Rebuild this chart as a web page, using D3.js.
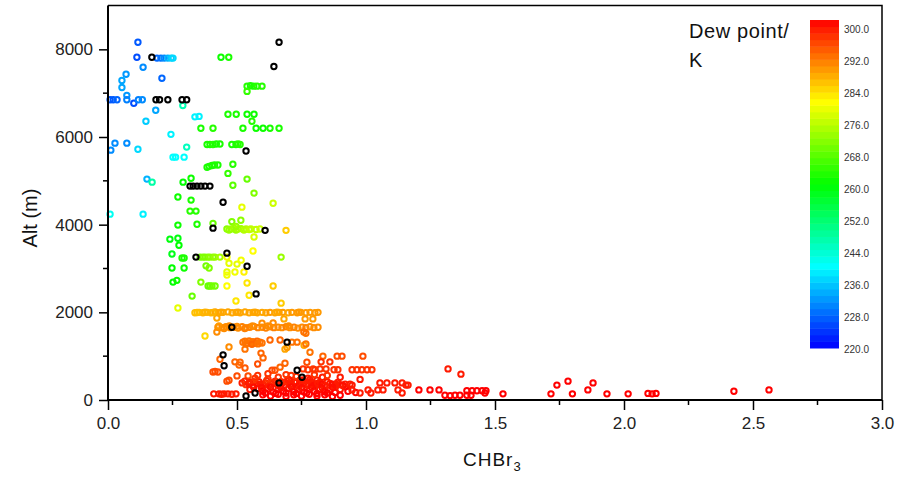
<!DOCTYPE html>
<html>
<head>
<meta charset="utf-8">
<script src="https://cdn.jsdelivr.net/npm/d3@7"></script>
<style>
  body { margin: 0; background: #fff; }
  text { font-family: "Liberation Sans", Arial, sans-serif; }
</style>
</head>
<body>
<div class="chart"></div>
<script>
// each row: [CHBr3, altitude (m), dew point (K) or null when not measured]
var upperPts = [
  [0.116, 8160, 227], [0.112, 7820, 226], [0.170, 7820, null], [0.190, 7800, 228],
  [0.205, 7800, 229], [0.218, 7800, 231], [0.232, 7800, 234], [0.245, 7800, 236],
  [0.252, 7800, 237], [0.136, 7590, 231], [0.070, 7430, 232], [0.054, 7290, 233],
  [0.054, 7130, 233], [0.209, 7340, 228], [0.073, 6950, 232], [0.008, 6850, 227],
  [0.020, 6850, 227], [0.035, 6850, 228], [0.073, 6850, 230], [0.100, 6770, 226],
  [0.118, 6850, 230], [0.133, 6850, 231], [0.186, 6850, null], [0.200, 6850, null],
  [0.232, 6850, null], [0.287, 6850, null], [0.305, 6850, null], [0.290, 6720, 246],
  [0.185, 6610, 233], [0.147, 6360, 236], [0.337, 6460, 239], [0.353, 6470, 239],
  [0.244, 6060, 239], [0.360, 6200, 262], [0.407, 6200, 263], [0.465, 6520, 262],
  [0.497, 6520, 262], [0.539, 6520, 261], [0.566, 6520, 261], [0.558, 6360, 263],
  [0.523, 6200, 262], [0.574, 6200, 261], [0.601, 6200, 261], [0.628, 6200, 262],
  [0.663, 6200, 262], [0.438, 7820, 261], [0.468, 7820, 262], [0.539, 7160, 263],
  [0.552, 7170, 262], [0.565, 7160, 262], [0.578, 7160, 263], [0.597, 7160, 263],
  [0.539, 7040, 264], [0.663, 8160, null], [0.643, 7610, null], [0.011, 5700, 231],
  [0.027, 5860, 231], [0.073, 5860, 231], [0.116, 5720, 237], [0.305, 5770, 245],
  [0.252, 5540, 240], [0.262, 5540, 240], [0.295, 5540, 240], [0.384, 5830, 262],
  [0.395, 5830, 262], [0.407, 5830, 263], [0.420, 5840, 262], [0.434, 5840, 262],
  [0.480, 5830, 262], [0.496, 5830, 262], [0.504, 5840, 263], [0.512, 5830, 263],
  [0.535, 5680, null], [0.384, 5310, 262], [0.392, 5330, 262], [0.403, 5350, 262],
  [0.413, 5360, 262], [0.426, 5360, 262], [0.484, 5380, 263], [0.465, 5170, 264],
  [0.539, 5040, 268], [0.322, 5060, 261], [0.291, 4970, 260], [0.151, 5040, 234],
  [0.171, 4970, 247], [0.318, 4880, null], [0.330, 4880, null], [0.345, 4880, null],
  [0.360, 4880, null], [0.376, 4880, null], [0.395, 4880, null], [0.484, 4900, 267],
  [0.566, 4720, 270], [0.446, 4510, null], [0.640, 4490, 276], [0.519, 4400, 278]
];

var midPts = [
  [0.271, 4630, 261], [0.322, 4560, 262], [0.318, 4310, 263], [0.341, 4310, 263],
  [0.008, 4240, 241], [0.136, 4240, 239], [0.271, 3990, 261], [0.345, 4010, 262],
  [0.407, 4030, 268], [0.480, 4070, 270], [0.515, 4100, 271], [0.407, 3920, null],
  [0.461, 3900, 271], [0.469, 3880, 272], [0.477, 3900, 272], [0.488, 3920, 273],
  [0.496, 3880, 272], [0.504, 3900, 273], [0.516, 3910, 273], [0.527, 3880, 274],
  [0.535, 3900, 274], [0.547, 3890, 275], [0.554, 3900, 275], [0.574, 3890, 275],
  [0.589, 3900, 276], [0.609, 3870, null], [0.690, 3870, 284], [0.496, 3960, 272],
  [0.240, 3670, 259], [0.271, 3690, 259], [0.275, 3530, 260], [0.566, 3720, 277],
  [0.248, 3330, 258], [0.287, 3240, 262], [0.295, 3240, 262], [0.341, 3260, null],
  [0.357, 3260, 269], [0.368, 3260, 270], [0.376, 3260, 270], [0.387, 3260, 270],
  [0.395, 3260, 271], [0.407, 3260, 271], [0.415, 3260, 272], [0.434, 3260, 273],
  [0.461, 3350, null], [0.461, 3260, 279], [0.469, 3120, 278], [0.500, 3100, 278],
  [0.516, 3190, 279], [0.539, 3050, null], [0.562, 3400, 280], [0.671, 3260, 272],
  [0.248, 3010, 260], [0.295, 3010, 261], [0.380, 3060, 269], [0.392, 3010, 270],
  [0.461, 2920, 278], [0.492, 2920, 279], [0.527, 2920, 281], [0.461, 2850, 279],
  [0.252, 2690, 260], [0.267, 2730, 261], [0.360, 2690, 270], [0.388, 2600, 268],
  [0.395, 2600, 268], [0.403, 2600, 269], [0.415, 2600, 269], [0.461, 2600, 280],
  [0.539, 2670, 282], [0.640, 2600, 284], [0.574, 2420, null], [0.547, 2390, 282],
  [0.326, 2370, 268], [0.496, 2260, 282], [0.271, 2100, 278], [0.671, 2210, 284]
];

var legPts2000 = [
  [0.337, 1990, 285], [0.353, 2000, 285], [0.368, 1990, 286], [0.384, 2000, 286],
  [0.399, 1990, 286], [0.415, 2010, 287], [0.430, 1990, 287], [0.446, 2000, 287],
  [0.465, 2010, 287], [0.481, 1990, 287], [0.496, 2000, 287], [0.512, 1990, 287],
  [0.531, 2010, 287], [0.547, 1990, 287], [0.562, 2000, 287], [0.578, 1990, 287],
  [0.597, 2000, 287], [0.612, 1990, 287], [0.628, 2000, 288], [0.647, 1990, 287],
  [0.663, 2000, 287], [0.678, 2000, 288], [0.698, 1990, 287], [0.713, 2000, 288],
  [0.733, 1990, 288], [0.748, 2000, 288], [0.767, 1990, 288], [0.783, 2000, 288],
  [0.802, 1990, 288], [0.814, 2000, 288], [0.422, 1870, 287], [0.682, 1850, 287],
  [0.764, 1850, 288], [0.794, 1850, 288], [0.376, 1460, 283],
  [0.345, 1995, 285], [0.376, 2005, 286], [0.407, 1995, 286], [0.438, 2005, 287],
  [0.504, 2005, 287], [0.570, 2005, 287], [0.655, 2005, 287], [0.740, 2005, 288]
];

var legPts1650 = [
  [0.426, 1660, 289], [0.442, 1650, 289], [0.457, 1670, 289], [0.473, 1650, 289],
  [0.480, 1660, null], [0.488, 1660, 289], [0.504, 1640, 289], [0.520, 1670, 290],
  [0.535, 1650, 289], [0.550, 1660, 290], [0.566, 1680, 289], [0.581, 1650, 290],
  [0.597, 1660, 289], [0.612, 1640, 290], [0.628, 1670, 289], [0.643, 1650, 290],
  [0.659, 1660, 289], [0.674, 1650, 289], [0.690, 1670, 290], [0.705, 1650, 289],
  [0.721, 1660, 290], [0.736, 1640, 289], [0.752, 1660, 289], [0.767, 1650, 290],
  [0.783, 1670, 289], [0.798, 1650, 289], [0.814, 1660, 289], [0.597, 1750, 289],
  [0.640, 1760, 289], [0.422, 1550, 289], [0.759, 1550, 291], [0.767, 1520, 291],
  [0.430, 1690, 288], [0.450, 1630, 289], [0.470, 1690, 289], [0.500, 1680, 289],
  [0.530, 1630, 290], [0.560, 1690, 289], [0.620, 1690, 289], [0.700, 1690, 289],
  [0.523, 1320, 291], [0.531, 1340, 291], [0.539, 1300, 291], [0.547, 1350, 291],
  [0.554, 1310, 291], [0.562, 1330, 291], [0.570, 1300, 291], [0.578, 1340, 292],
  [0.589, 1320, 291], [0.597, 1300, 291], [0.535, 1280, 291], [0.558, 1270, 292],
  [0.581, 1280, 291], [0.628, 1370, 292], [0.667, 1370, 292],
  [0.694, 1320, null], [0.713, 1320, 291], [0.733, 1320, 291], [0.686, 1160, 287],
  [0.694, 1200, 288], [0.760, 1250, 287], [0.767, 1280, 291], [0.469, 1210, 289],
  [0.531, 1160, 291], [0.783, 1090, 291], [0.833, 1000, 292], [0.888, 1000, 294],
  [0.907, 1000, 294], [0.988, 1000, 294]
];

var lowPts = [
  [0.446, 1030, null], [0.434, 930, 292], [0.450, 780, null], [0.407, 640, 294],
  [0.415, 650, 294], [0.426, 640, 294], [0.492, 870, 292], [0.512, 860, 292],
  [0.508, 800, 292], [0.531, 730, 293], [0.500, 550, 294], [0.543, 550, 294],
  [0.461, 430, 294], [0.469, 450, 294], [0.593, 1070, 292], [0.601, 960, 292],
  [0.636, 680, 294], [0.647, 680, 294], [0.667, 750, 292], [0.686, 840, 292],
  [0.733, 680, null], [0.752, 520, null], [0.771, 860, 294], [0.775, 690, 296],
  [0.802, 690, 296], [0.756, 710, 296], [0.795, 710, 296], [0.822, 710, 296],
  [0.845, 710, 296], [0.826, 870, 296], [0.860, 870, 296], [0.876, 690, 296],
  [0.891, 690, 296], [0.946, 690, 296], [0.965, 690, 296], [0.984, 690, 296],
  [1.004, 690, 296], [1.023, 690, 296], [0.831, 520, 298], [0.783, 470, 298],
  [0.810, 450, 298], [0.977, 470, 298], [0.884, 360, 298], [0.919, 360, 298],
  [0.938, 360, 298], [0.744, 450, 298], [0.756, 460, 298], [0.775, 500, 298],
  [0.794, 390, 298], [0.710, 560, 296], [0.620, 600, 296], [0.580, 820, 294]
];

var surfacePts = [
  [0.410, 140, 298], [0.430, 140, 298], [0.440, 130, 298], [0.450, 140, 298],
  [0.465, 140, 298], [0.480, 130, 298], [0.496, 140, 298], [0.535, 90, null],
  [0.570, 160, null], [0.663, 390, null],
  [0.520, 390, 298], [0.535, 350, 296], [0.550, 400, 298], [0.560, 330, 298],
  [0.575, 380, 296], [0.585, 420, 298], [0.600, 350, 298], [0.610, 390, 298],
  [0.625, 330, 298], [0.640, 400, 296], [0.655, 360, 298], [0.670, 420, 298],
  [0.685, 340, 298], [0.700, 380, 298], [0.715, 330, 298], [0.730, 400, 298],
  [0.745, 350, 298], [0.760, 390, 298], [0.775, 330, 298], [0.790, 380, 298],
  [0.805, 350, 298], [0.820, 400, 298], [0.840, 330, 298], [0.860, 380, 298],
  [0.880, 330, 298], [0.900, 350, 298], [0.920, 300, 298],
  [0.530, 430, 297], [0.545, 370, 298], [0.565, 420, 297], [0.590, 360, 298],
  [0.615, 440, 297], [0.632, 370, 298], [0.648, 430, 297], [0.662, 330, 298],
  [0.678, 400, 298], [0.693, 430, 297], [0.708, 360, 298], [0.723, 410, 298],
  [0.738, 320, 299], [0.752, 420, 298], [0.768, 360, 298], [0.783, 420, 298],
  [0.798, 330, 299], [0.813, 380, 298], [0.830, 360, 299], [0.850, 410, 298],
  [0.870, 360, 299], [0.890, 400, 298], [0.910, 330, 299],
  [0.550, 240, 298], [0.580, 260, 298], [0.600, 200, 300], [0.620, 250, 298],
  [0.640, 180, 300], [0.660, 240, 298], [0.680, 200, 300], [0.700, 260, 298],
  [0.720, 190, 300], [0.740, 240, 298], [0.760, 180, 300], [0.780, 250, 298],
  [0.800, 200, 300], [0.820, 240, 298], [0.840, 190, 300], [0.860, 230, 298],
  [0.880, 170, 300], [0.900, 240, 298], [0.930, 200, 300], [0.960, 170, 300],
  [0.565, 290, 299], [0.595, 280, 299], [0.630, 290, 299], [0.670, 280, 299],
  [0.710, 300, 299], [0.750, 280, 299], [0.790, 290, 299], [0.830, 280, 299],
  [0.870, 290, 299], [0.610, 160, 300], [0.650, 150, 300], [0.690, 160, 300],
  [0.730, 150, 300], [0.770, 160, 300], [0.810, 150, 300], [0.850, 160, 300],
  [0.600, 120, 300], [0.630, 90, 300], [0.660, 130, 300], [0.690, 80, 300],
  [0.720, 120, 300], [0.750, 90, 300], [0.780, 130, 300], [0.810, 90, 300],
  [0.840, 120, 300], [0.870, 80, 300], [0.900, 110, 300],
  [0.570, 500, 296], [0.620, 480, 296], [0.660, 520, 296], [0.700, 470, 298],
  [0.730, 540, 296], [0.800, 580, 296], [0.850, 560, 296], [0.900, 520, 298],
  [0.690, 580, 296], [0.580, 560, 296],
  [0.946, 340, 298], [0.946, 230, 298], [0.977, 160, 298], [1.008, 230, 298],
  [1.019, 160, 298], [1.046, 230, 298], [1.066, 230, 298], [1.054, 390, 298],
  [1.081, 390, 298], [1.112, 390, 298], [1.140, 390, 298], [1.163, 340, 298],
  [1.124, 230, 298], [1.140, 160, 298], [1.155, 340, 298], [1.205, 230, 300],
  [1.248, 230, 300], [1.283, 230, 300], [1.318, 710, 298], [1.368, 590, 298],
  [1.306, 110, 300], [1.326, 100, 300], [1.345, 110, 300], [1.364, 110, 300],
  [1.391, 110, 300], [1.407, 110, 300], [1.391, 210, 300], [1.411, 210, 300],
  [1.430, 210, 300], [1.450, 210, 300], [1.465, 210, 300], [1.461, 160, 300],
  [1.531, 140, 300], [1.717, 140, 300], [1.740, 340, 300], [1.783, 430, 300],
  [1.800, 140, 300], [1.860, 230, 300], [1.880, 390, 300], [1.934, 140, 300],
  [2.016, 140, 300], [2.093, 150, 300], [2.109, 140, 300], [2.124, 150, 300],
  [2.426, 200, 300], [2.562, 230, 300]
];

var xTicks = [0, 0.5, 1.0, 1.5, 2.0, 2.5, 3.0];
var xMinor = [0.25, 0.75, 1.25, 1.75, 2.25, 2.75];
var yTicks = [0, 2000, 4000, 6000, 8000];
var yMinor = [1000, 3000, 5000, 7000];
var cbTicks = [220, 228, 236, 244, 252, 260, 268, 276, 284, 292, 300];
var rainbowStops = [220, 240, 260, 280, 300];
var rainbowColors = ["#0000ff", "#00ffff", "#00ff00", "#ffff00", "#ff0000"];

var allPts = upperPts.concat(midPts, legPts2000, legPts1650, lowPts, surfacePts);

var svgWidth = 904;
var svgHeight = 491;
var plot = { left: 108, right: 882, top: 5.5, bottom: 400 };

var svg = d3.select(".chart")
  .append("svg")
  .attr("width", svgWidth)
  .attr("height", svgHeight);

var xScale = d3.scaleLinear().domain([0, 3]).range([plot.left, plot.right]);
var yScale = d3.scaleLinear().domain([0, 9000]).range([plot.bottom, plot.top]);
var colorScale = d3.scaleLinear().domain(rainbowStops).range(rainbowColors);

// frame (top + right)
svg.append("path")
  .attr("d", `M${plot.left},${plot.top}H${plot.right}V${plot.bottom}`)
  .attr("fill", "none")
  .attr("stroke", "#000")
  .attr("stroke-width", 1.5);

// points: coloured first, unmeasured (black) on top
var pts = svg.append("g");
pts.selectAll("circle")
  .data(allPts.filter(d => d[2] !== null).concat(allPts.filter(d => d[2] === null)))
  .enter()
  .append("circle")
  .attr("cx", d => xScale(d[0]))
  .attr("cy", d => yScale(d[1]))
  .attr("r", 2.7)
  .attr("fill", "none")
  .attr("stroke", d => d[2] === null ? "#000" : colorScale(d[2]))
  .attr("stroke-width", 2);

// axes
var xAxis = d3.axisBottom(xScale).tickValues(xTicks).tickFormat(d3.format(".1f"))
  .tickSize(10).tickPadding(7).tickSizeOuter(0);
var yAxis = d3.axisLeft(yScale).tickValues(yTicks).tickFormat(d3.format("d"))
  .tickSize(9).tickPadding(6).tickSizeOuter(0);

var gx = svg.append("g").attr("transform", `translate(0, ${plot.bottom})`).call(xAxis);
var gy = svg.append("g").attr("transform", `translate(${plot.left}, 0)`).call(yAxis);
[gx, gy].forEach(g => {
  g.select(".domain").attr("stroke", "#000").attr("stroke-width", 2);
  g.selectAll(".tick line").attr("stroke", "#000").attr("stroke-width", 1.5);
  g.selectAll(".tick text").attr("font-size", 17).attr("fill", "#222")
    .attr("font-family", "Liberation Sans, Arial, sans-serif");
});
gy.select(".domain").attr("d", `M0,${plot.bottom}V${plot.top}`);
gx.select(".domain").attr("d", `M${plot.left},0H${plot.right}`);

svg.append("g").selectAll("line")
  .data(xMinor).enter().append("line")
  .attr("x1", d => xScale(d)).attr("x2", d => xScale(d))
  .attr("y1", plot.bottom).attr("y2", plot.bottom + 5)
  .attr("stroke", "#000").attr("stroke-width", 1.5);
svg.append("g").selectAll("line")
  .data(yMinor).enter().append("line")
  .attr("y1", d => yScale(d)).attr("y2", d => yScale(d))
  .attr("x1", plot.left).attr("x2", plot.left - 5)
  .attr("stroke", "#000").attr("stroke-width", 1.5);

// axis titles
svg.append("text")
  .attr("transform", "translate(37, 218) rotate(-90)")
  .attr("text-anchor", "middle")
  .attr("font-size", 20)
  .attr("fill", "#111")
  .text("Alt (m)");

var xt = svg.append("text")
  .attr("x", 463).attr("y", 466)
  .attr("font-size", 19)
  .attr("letter-spacing", 1)
  .attr("fill", "#111");
xt.append("tspan").text("CHBr");
xt.append("tspan").attr("font-size", 13).attr("dy", 5).text("3");

// colour bar
var cbX = 810, cbW = 29;
var barScale = d3.scaleLinear().domain([220, 300]).range([348, 20]);
var labelScale = d3.scaleLinear().domain([220, 300]).range([349, 29]);
var bands = d3.range(220, 300, 1.6);
svg.append("g").selectAll("rect")
  .data(bands).enter().append("rect")
  .attr("x", cbX)
  .attr("y", d => barScale(d + 1.6))
  .attr("width", cbW)
  .attr("height", d => barScale(d) - barScale(d + 1.6) + 0.5)
  .attr("fill", d => colorScale(d + 0.8));

svg.append("g").selectAll("text")
  .data(cbTicks).enter().append("text")
  .attr("x", 844)
  .attr("y", d => labelScale(d))
  .attr("dy", "0.35em")
  .attr("font-size", 10)
  .attr("fill", "#333")
  .text(d => d3.format(".1f")(d));

svg.append("text").attr("x", 689).attr("y", 38)
  .attr("font-size", 20).attr("letter-spacing", 0.6).attr("fill", "#111")
  .text("Dew point/");
svg.append("text").attr("x", 689).attr("y", 67)
  .attr("font-size", 20).attr("fill", "#111")
  .text("K");
</script>
</body>
</html>
